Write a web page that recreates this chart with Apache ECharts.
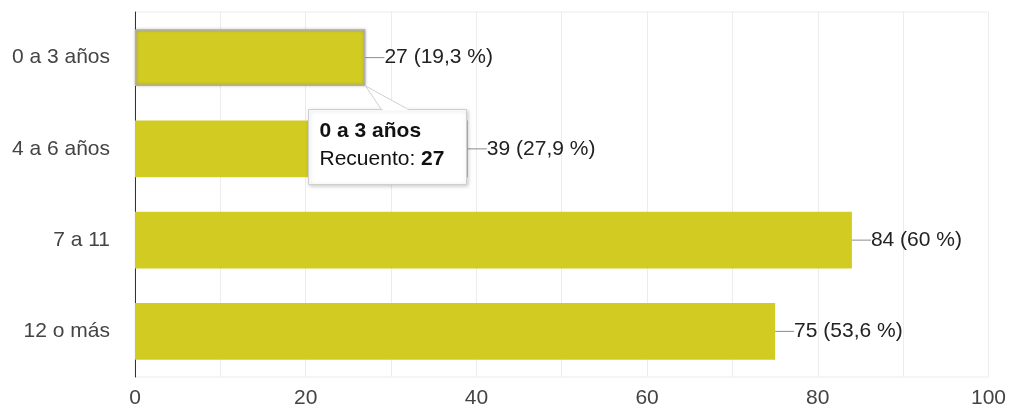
<!DOCTYPE html>
<html>
<head>
<meta charset="utf-8">
<script src="https://cdn.jsdelivr.net/npm/echarts@6/dist/echarts.min.js"></script>
<style>
  html, body { margin: 0; padding: 0; background: #fff; }
  #chart { width: 1009px; height: 411px; }
</style>
</head>
<body>
<div id="chart"></div>
<script>
// Age groups and response counts
const categories = ['0 a 3 años', '4 a 6 años', '7 a 11', '12 o más'];
const counts = [27, 39, 84, 75];
const percents = ['19,3', '27,9', '60', '53,6'];
const xTicks = [0, 20, 40, 60, 80, 100];
const highlighted = 0; // bar whose detail box is open

const FONT = '"Liberation Sans", Arial, sans-serif';
const BAR = '#d2cc22';

const chart = echarts.init(document.getElementById('chart'), null, { renderer: 'canvas' });

chart.setOption({
  animation: false,
  textStyle: { fontFamily: FONT },
  grid: {
    left: 135, right: 19, top: 12, bottom: 34,
    show: true, borderColor: '#ececec', borderWidth: 1
  },
  xAxis: {
    type: 'value',
    min: xTicks[0],
    max: xTicks[xTicks.length - 1],
    interval: 20,
    axisLine: { show: false },
    axisTick: { show: false },
    axisLabel: { color: '#444', fontSize: 21, margin: 11, fontFamily: FONT },
    splitLine: { show: true, lineStyle: { color: '#ececec', width: 1 } },
    minorTick: { show: false, splitNumber: 2 },
    minorSplitLine: { show: true, lineStyle: { color: '#ececec', width: 1 } }
  },
  yAxis: {
    type: 'category',
    inverse: true,
    data: categories,
    axisLine: { show: true, lineStyle: { color: '#333', width: 1 } },
    axisTick: { show: false },
    axisLabel: { color: '#444', fontSize: 21, margin: 25, fontFamily: FONT },
    splitLine: { show: false }
  },
  series: [{
    type: 'bar',
    barCategoryGap: '38%',
    data: counts.map((v, i) => ({
      value: v,
      itemStyle: i === highlighted
        ? { color: BAR, borderColor: '#b0b0b0', borderWidth: 1.5, shadowColor: 'rgba(0,0,0,0.25)', shadowBlur: 3 }
        : { color: BAR }
    })),
    label: {
      show: true,
      position: 'right',
      distance: 0,
      color: '#222',
      fontSize: 21,
      fontFamily: FONT,
      formatter: p => p.value + ' (' + percents[p.dataIndex] + ' %)'
    },
    labelLayout: { dx: 19 },
    labelLine: { show: true, lineStyle: { color: '#8c8c8c', width: 1 } }
  }]
});

// Detail box for the highlighted bar, anchored to the bar's end
function drawDetail() {
  const end = chart.convertToPixel({ gridIndex: 0 }, [counts[highlighted], highlighted]);
  const next = chart.convertToPixel({ gridIndex: 0 }, [0, highlighted + 1]);
  const band = next[1] - end[1];
  const barH = band * 0.62;
  const ax = end[0], ay = end[1] + barH / 2;
  const bx = Math.round(ax - 57) + 0.5, by = Math.round(ay + 23) + 0.5, bw = 158, bh = 75;
  chart.setOption({
    graphic: [
      {
        type: 'rect', z: 100,
        shape: { x: bx, y: by, width: bw, height: bh },
        style: { fill: '#ffffff', stroke: '#cfcfcf', lineWidth: 1, shadowColor: 'rgba(0,0,0,0.2)', shadowBlur: 4, shadowOffsetX: 1, shadowOffsetY: 1 }
      },
      {
        type: 'polygon', z: 101,
        shape: { points: [[ax + 16, by], [ax, ay], [ax + 43, by]] },
        style: { fill: '#ffffff', stroke: '#cfcfcf', lineWidth: 1 }
      },
      {
        type: 'line', z: 102,
        shape: { x1: ax + 17, y1: by, x2: ax + 42, y2: by },
        style: { stroke: '#ffffff', lineWidth: 2 }
      },
      {
        type: 'text', z: 103,
        style: {
          x: bx + 11, y: by + 8,
          text: '{b|' + categories[highlighted] + '}\n{n|Recuento: }{b|' + counts[highlighted] + '}',
          verticalAlign: 'top',
          rich: {
            b: { fontFamily: FONT, fontSize: 21, fontWeight: 'bold', fill: '#111', lineHeight: 28 },
            n: { fontFamily: FONT, fontSize: 21, fill: '#111', lineHeight: 28 }
          }
        }
      }
    ]
  });
}
drawDetail();
</script>
</body>
</html>
